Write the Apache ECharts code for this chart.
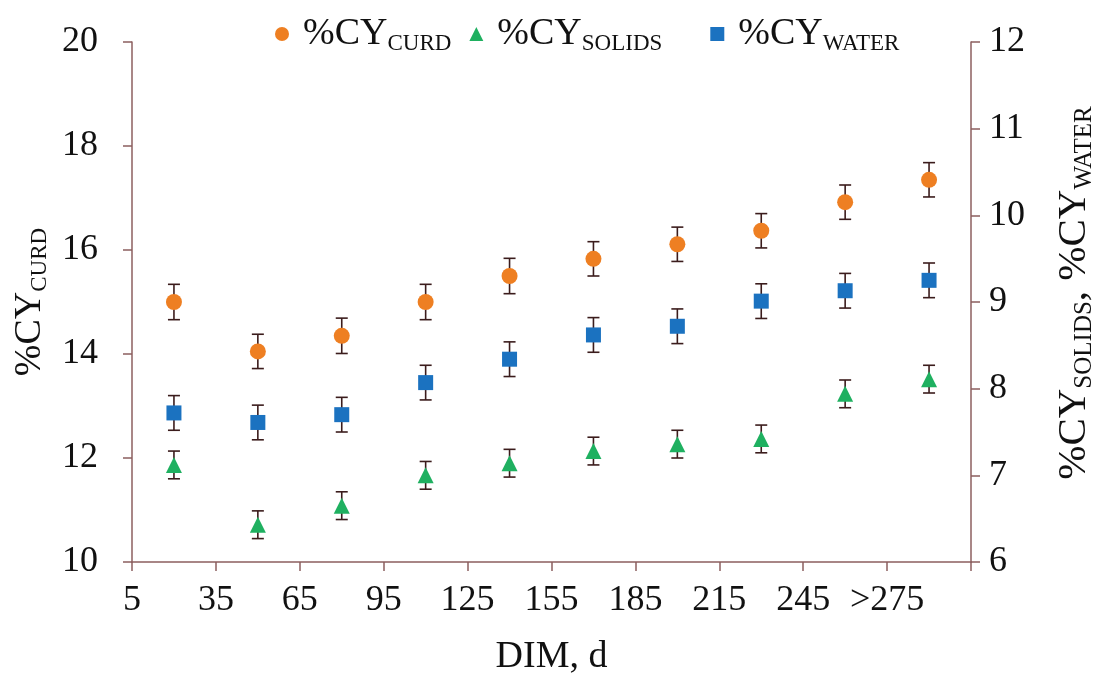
<!DOCTYPE html>
<html>
<head>
<meta charset="utf-8">
<script src="https://cdn.jsdelivr.net/npm/echarts@6/dist/echarts.min.js"></script>
<style>
  html, body { margin: 0; background: #fff; }
  #chart { width: 1098px; height: 675px; }
</style>
</head>
<body>
<div id="chart"></div>
<script>
// DIM (days) where each group is plotted
var dim = [20, 50, 80, 110, 140, 170, 200, 230, 260, 290];
// x tick labels from 5 to 305 every 30
var xTickLabels = ['5', '35', '65', '95', '125', '155', '185', '215', '245', '>275', ''];

// %CY curd (left axis)
var cyCurd = [15.0, 14.05, 14.35, 15.0, 15.5, 15.83, 16.11, 16.37, 16.92, 17.35];
var cyCurdErr = [0.34, 0.33, 0.34, 0.34, 0.34, 0.33, 0.33, 0.33, 0.33, 0.33];
// %CY solids (right axis)
var cySolids = [7.12, 6.43, 6.65, 7.0, 7.14, 7.28, 7.36, 7.42, 7.94, 8.11];
var cySolidsErr = [0.16, 0.16, 0.16, 0.16, 0.16, 0.16, 0.16, 0.16, 0.16, 0.16];
// %CY water (right axis)
var cyWater = [7.72, 7.61, 7.70, 8.07, 8.34, 8.62, 8.72, 9.01, 9.13, 9.25];
var cyWaterErr = [0.2, 0.2, 0.2, 0.2, 0.2, 0.2, 0.2, 0.2, 0.2, 0.2];

var font = 'Liberation Serif';
var axisColor = '#8c5f5f';
var barColor = '#3b1c1c';

var rich = {
  g: { width: 9 },
  m: { fontFamily: font, fontSize: 38, color: '#111', lineHeight: 42 },
  s: { fontFamily: font, fontSize: 23, color: '#111', lineHeight: 22, verticalAlign: 'bottom' },
  // subscript with extra room after it (SOLIDS item in the legend)
  u: { fontFamily: font, fontSize: 23, color: '#111', lineHeight: 22, verticalAlign: 'bottom', padding: [0, 30, 0, 0] }
};
var richRight = {
  m: { fontFamily: font, fontSize: 41, color: '#111', lineHeight: 46 },
  s: { fontFamily: font, fontSize: 25, color: '#111', lineHeight: 24, verticalAlign: 'bottom' }
};

function pairs(vals) {
  return dim.map(function (d, i) { return [d, vals[i]]; });
}

function errorBars(vals, errs, axisIdx) {
  return {
    type: 'custom',
    yAxisIndex: axisIdx,
    z: 1,
    silent: true,
    encode: { x: 0, y: [1, 2] },
    data: dim.map(function (d, i) { return [d, vals[i] - errs[i], vals[i] + errs[i]]; }),
    renderItem: function (params, api) {
      var lo = api.coord([api.value(0), api.value(1)]);
      var hi = api.coord([api.value(0), api.value(2)]);
      var w = 6;
      var st = { stroke: barColor, lineWidth: 1.6 };
      return {
        type: 'group',
        children: [
          { type: 'line', shape: { x1: lo[0], y1: lo[1], x2: hi[0], y2: hi[1] }, style: st },
          { type: 'line', shape: { x1: lo[0] - w, y1: lo[1], x2: lo[0] + w, y2: lo[1] }, style: st },
          { type: 'line', shape: { x1: hi[0] - w, y1: hi[1], x2: hi[0] + w, y2: hi[1] }, style: st }
        ]
      };
    }
  };
}

var chart = echarts.init(document.getElementById('chart'));

chart.setOption({
  animation: false,
  grid: { left: 132, right: 127, top: 42, bottom: 113, outerBoundsMode: 'none' },
  legend: {
    data: ['CURD', 'SOLIDS', 'WATER'],
    left: 270,
    top: 10,
    itemGap: 18,
    itemWidth: 14,
    itemHeight: 14,
    formatter: function (name) {
      var sub = name === 'SOLIDS' ? 'u' : 's';
      return '{g|}{m|%CY}{' + sub + '|' + name + '}';
    },
    textStyle: { rich: rich }
  },
  xAxis: {
    type: 'value',
    min: 5,
    max: 305,
    interval: 30,
    splitLine: { show: false },
    axisLine: { onZero: false, lineStyle: { color: axisColor, width: 1.5 } },
    axisTick: { length: 9, lineStyle: { color: axisColor, width: 1.5 } },
    axisLabel: {
      margin: 21,
      fontFamily: font,
      fontSize: 36,
      color: '#111',
      formatter: function (v) { return xTickLabels[Math.round((v - 5) / 30)]; }
    },
    name: 'DIM, d',
    nameLocation: 'middle',
    nameGap: 76,
    nameTextStyle: { fontFamily: font, fontSize: 38, color: '#111' }
  },
  yAxis: [
    {
      type: 'value',
      min: 10,
      max: 20,
      interval: 2,
      splitLine: { show: false },
      axisLine: { show: true, lineStyle: { color: axisColor, width: 1.5 } },
      axisTick: { show: true, length: 9, lineStyle: { color: axisColor, width: 1.5 } },
      axisLabel: { margin: 34, fontFamily: font, fontSize: 36, color: '#111' },
      name: '{m|%CY}{s|CURD}',
      nameLocation: 'middle',
      nameRotate: 90,
      nameGap: 80,
      nameTextStyle: { rich: rich }
    },
    {
      type: 'value',
      position: 'right',
      min: 6,
      max: 12,
      interval: 1,
      splitLine: { show: false },
      axisLine: { show: true, lineStyle: { color: axisColor, width: 1.5 } },
      axisTick: { show: true, length: 9, lineStyle: { color: axisColor, width: 1.5 } },
      axisLabel: { margin: 18, fontFamily: font, fontSize: 36, color: '#111' },
      name: '{m|%CY}{s|SOLIDS}{m|, %CY}{s|WATER}',
      nameLocation: 'middle',
      nameRotate: 90,
      nameGap: 80,
      nameTextStyle: { rich: richRight, padding: [0, 0, 0, 18] }
    }
  ],
  series: [
    errorBars(cyCurd, cyCurdErr, 0),
    errorBars(cySolids, cySolidsErr, 1),
    errorBars(cyWater, cyWaterErr, 1),
    {
      name: 'CURD', type: 'scatter', yAxisIndex: 0, z: 3,
      symbol: 'circle', symbolSize: 16,
      itemStyle: { color: '#ee7f22', opacity: 1 },
      data: pairs(cyCurd)
    },
    {
      name: 'SOLIDS', type: 'scatter', yAxisIndex: 1, z: 3,
      symbol: 'triangle', symbolSize: 16,
      itemStyle: { color: '#1fb060', opacity: 1 },
      data: pairs(cySolids)
    },
    {
      name: 'WATER', type: 'scatter', yAxisIndex: 1, z: 3,
      symbol: 'rect', symbolSize: 15,
      itemStyle: { color: '#1b72c0', opacity: 1 },
      data: pairs(cyWater)
    }
  ]
});
</script>
</body>
</html>
